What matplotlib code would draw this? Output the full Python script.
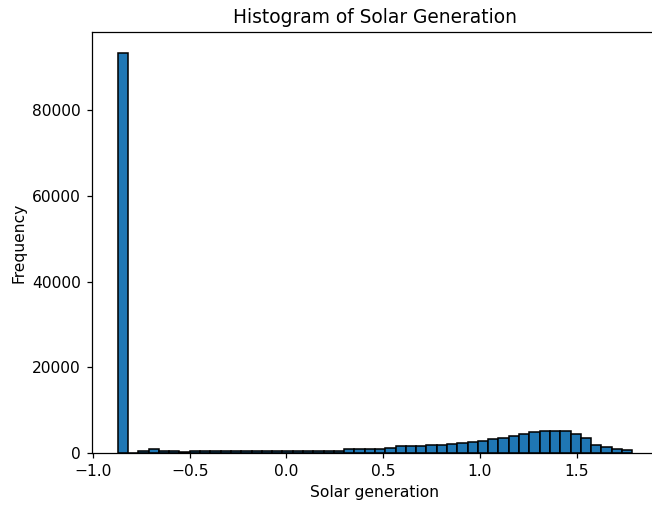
import numpy as np
import matplotlib
matplotlib.use("Agg")
import matplotlib.pyplot as plt

# Range of the data (bin edges from the histogram)
gen_min = -0.872
gen_max = 1.787
n_bins = 50

# Counts per bin (left to right)
counts = [93500, 0, 500, 870, 550, 550, 150, 500, 500, 500,
          500, 500, 500, 500, 500, 500, 500, 500, 500, 500,
          500, 500, 900, 900, 900, 900, 1250, 1550, 1550, 1550,
          1950, 1950, 2100, 2350, 2650, 2900, 3350, 3600, 4050, 4450,
          4900, 5150, 5150, 5150, 4450, 3600, 1950, 1450, 1050, 700]

edges = np.linspace(gen_min, gen_max, n_bins + 1)
centers = (edges[:-1] + edges[1:]) / 2

dpi = 112
fig = plt.figure(figsize=(652 / dpi, 506 / dpi), dpi=dpi)
ax = fig.add_axes([92 / 652, 53 / 506, 566 / 652, 420.5 / 506])
ax.hist(centers, bins=edges, weights=counts, color='#1f77b4', edgecolor='black')
ax.set_title('Histogram of Solar Generation')
ax.set_xlabel('Solar generation')
ax.set_ylabel('Frequency')
fig.savefig('out.png', dpi=dpi)
